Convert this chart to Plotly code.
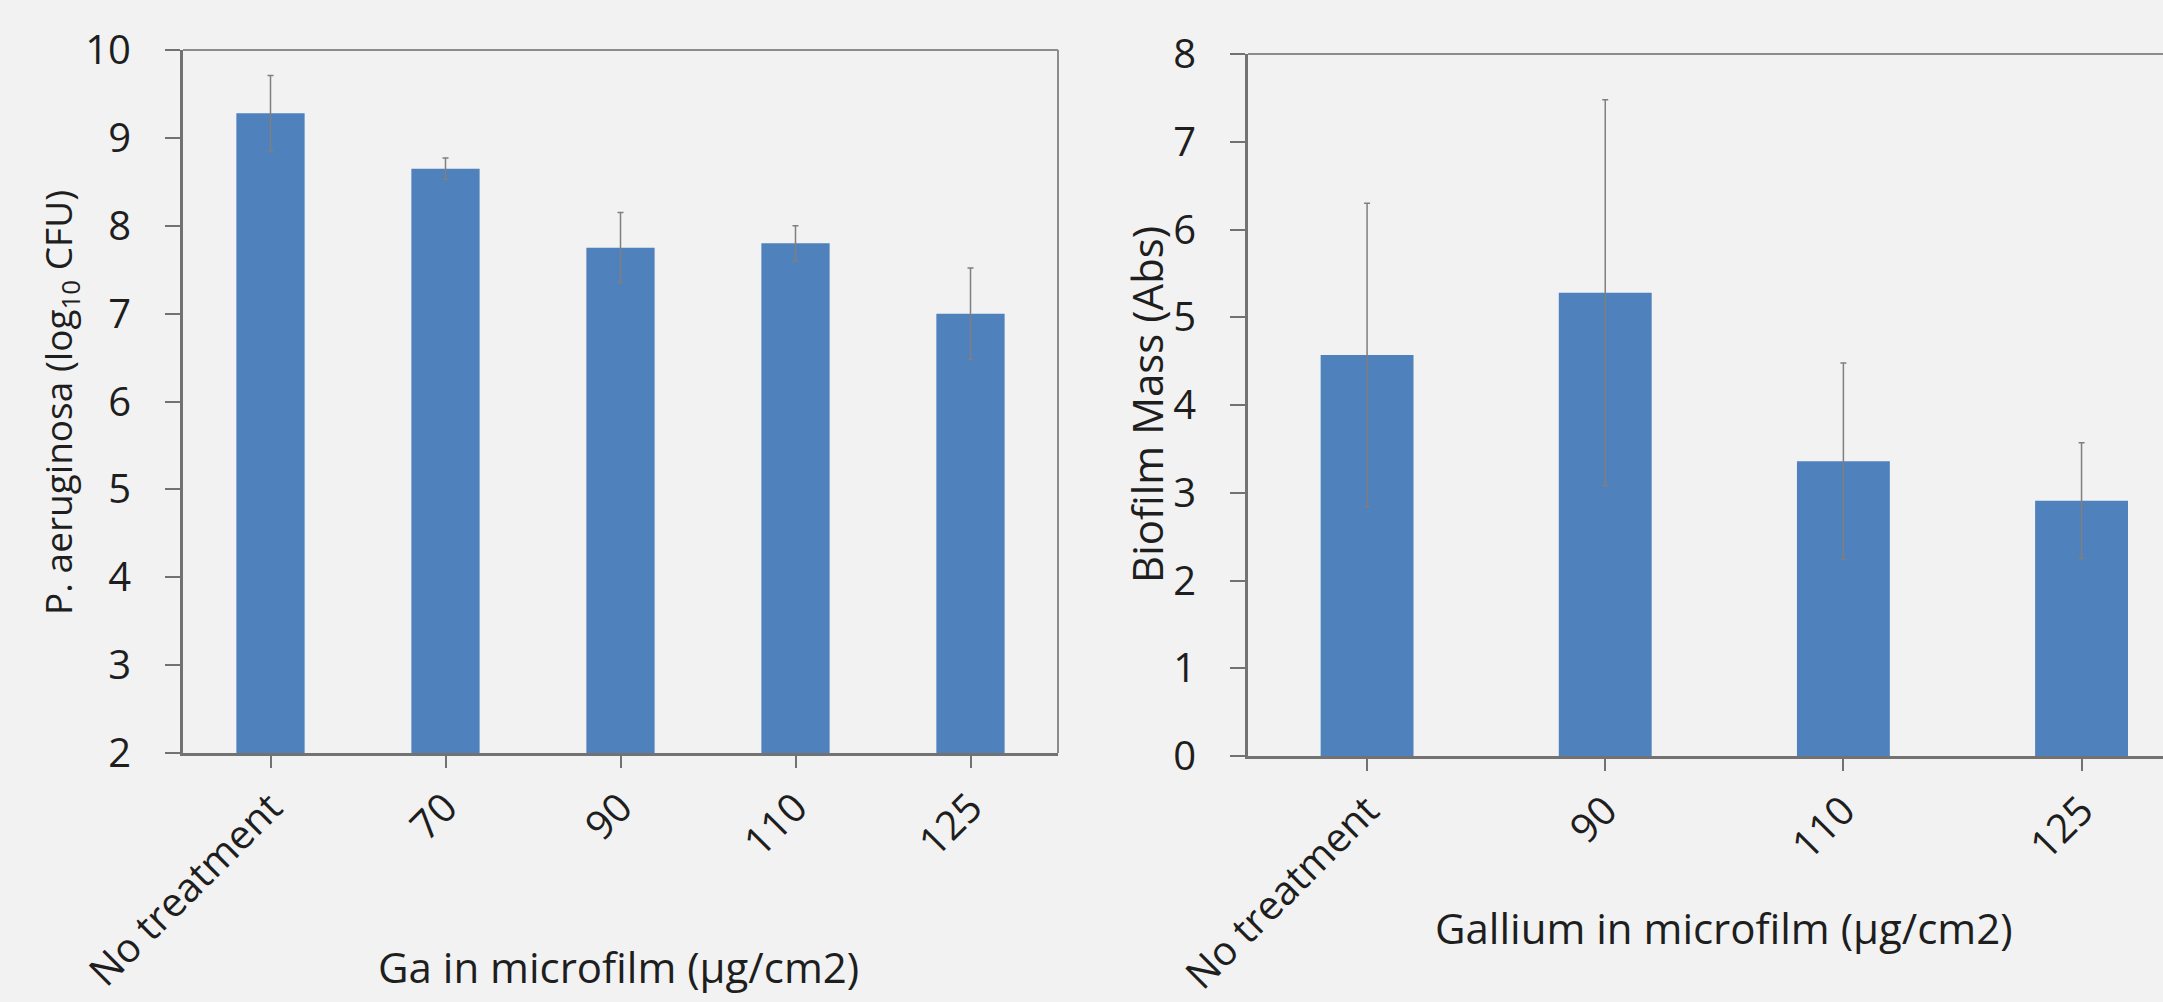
import plotly.graph_objects as go

# ---- data ----
cfu_categories = ["No treatment", "70", "90", "110", "125"]
cfu_values = [9.28, 8.65, 7.75, 7.80, 7.00]
cfu_errors = [0.43, 0.12, 0.40, 0.20, 0.52]

biomass_categories = ["No treatment", "90", "110", "125"]
biomass_values = [4.57, 5.28, 3.36, 2.91]
biomass_errors = [1.73, 2.20, 1.12, 0.66]

left_yticks = [2, 3, 4, 5, 6, 7, 8, 9, 10]
right_yticks = [0, 1, 2, 3, 4, 5, 6, 7, 8]

W, H = 2163, 1002
BAR = "#4F81BD"
BG = "#F2F2F2"
AX = "#727272"
BOX = "#8C8C8C"
ERR = "#7F7F7F"
FONT = "Open Sans"
TXT = "#1E1E1E"

fig = go.Figure()
fig.add_trace(go.Bar(
    x=cfu_categories, y=cfu_values, marker_color=BAR, marker_line_width=0,
    error_y=dict(type="data", array=cfu_errors, visible=True, color=ERR, thickness=1.5, width=3),
    xaxis="x", yaxis="y", showlegend=False,
))
fig.add_trace(go.Bar(
    x=biomass_categories, y=biomass_values, marker_color=BAR, marker_line_width=0,
    error_y=dict(type="data", array=biomass_errors, visible=True, color=ERR, thickness=1.5, width=3),
    xaxis="x2", yaxis="y2", showlegend=False,
))

def px_x(p):
    return p / W

def px_y(p):
    return 1 - p / H

tickfont = dict(family=FONT, size=40, color=TXT)
ytitlefont_l = dict(family=FONT, size=37, color=TXT)
ytitlefont_r = dict(family=FONT, size=42, color=TXT)
xtitlefont = dict(family=FONT, size=42, color=TXT)

common_x = dict(
    type="category", showline=True, linecolor=AX, linewidth=3, mirror=False,
    ticks="outside", ticklen=12, tickcolor=AX, tickwidth=2,
    tickangle=-45, tickfont=tickfont, automargin=False, showgrid=False,
)
common_y = dict(
    showline=True, linecolor=AX, linewidth=3, mirror=False,
    ticks="outside", ticklen=15, tickcolor=AX, tickwidth=2,
    tickfont=tickfont, automargin=False, showgrid=False, zeroline=False,
    ticklabelstandoff=26,
)

fig.update_layout(
    width=W, height=H,
    margin=dict(l=0, r=0, t=0, b=0),
    paper_bgcolor=BG, plot_bgcolor=BG,
    bargap=0.61,
    font=dict(family=FONT, color=TXT),
    xaxis=dict(domain=[px_x(183), px_x(1058)], anchor="y", range=[-0.5, 4.5], **common_x),
    yaxis=dict(domain=[px_y(753), px_y(50)], anchor="x", range=[2, 10],
               tickvals=left_yticks, **common_y),
    xaxis2=dict(domain=[px_x(1248), 1.0], anchor="y2", range=[-0.5, 3.342], **common_x),
    yaxis2=dict(domain=[px_y(756), px_y(54)], anchor="x2", range=[0, 8],
                tickvals=right_yticks, **common_y),
    shapes=[
        # box border of the left panel (top and right)
        dict(type="line", xref="x domain", yref="y domain", x0=0, x1=1, y0=1, y1=1,
             line=dict(color=BOX, width=2)),
        dict(type="line", xref="x domain", yref="y domain", x0=1, x1=1, y0=0, y1=1,
             line=dict(color=BOX, width=2)),
        # top border of the right panel
        dict(type="line", xref="x2 domain", yref="y2 domain", x0=0, x1=1, y0=1, y1=1,
             line=dict(color=BOX, width=2)),
    ],
    annotations=[
        dict(text="P. aeruginosa (log<sub>10</sub> CFU)", textangle=-90,
             x=px_x(60), y=px_y(403), xref="paper", yref="paper",
             xanchor="center", yanchor="middle", showarrow=False, font=ytitlefont_l),
        dict(text="Biofilm Mass (Abs)", textangle=-90,
             x=px_x(1146), y=px_y(405), xref="paper", yref="paper",
             xanchor="center", yanchor="middle", showarrow=False, font=ytitlefont_r),
        dict(text="Ga in microfilm (µg/cm2)",
             x=px_x(618), y=px_y(966), xref="paper", yref="paper",
             xanchor="center", yanchor="middle", showarrow=False, font=xtitlefont),
        dict(text="Gallium in microfilm (µg/cm2)",
             x=px_x(1724), y=px_y(927), xref="paper", yref="paper",
             xanchor="center", yanchor="middle", showarrow=False, font=xtitlefont),
    ],
)

fig.write_html("out.html")
